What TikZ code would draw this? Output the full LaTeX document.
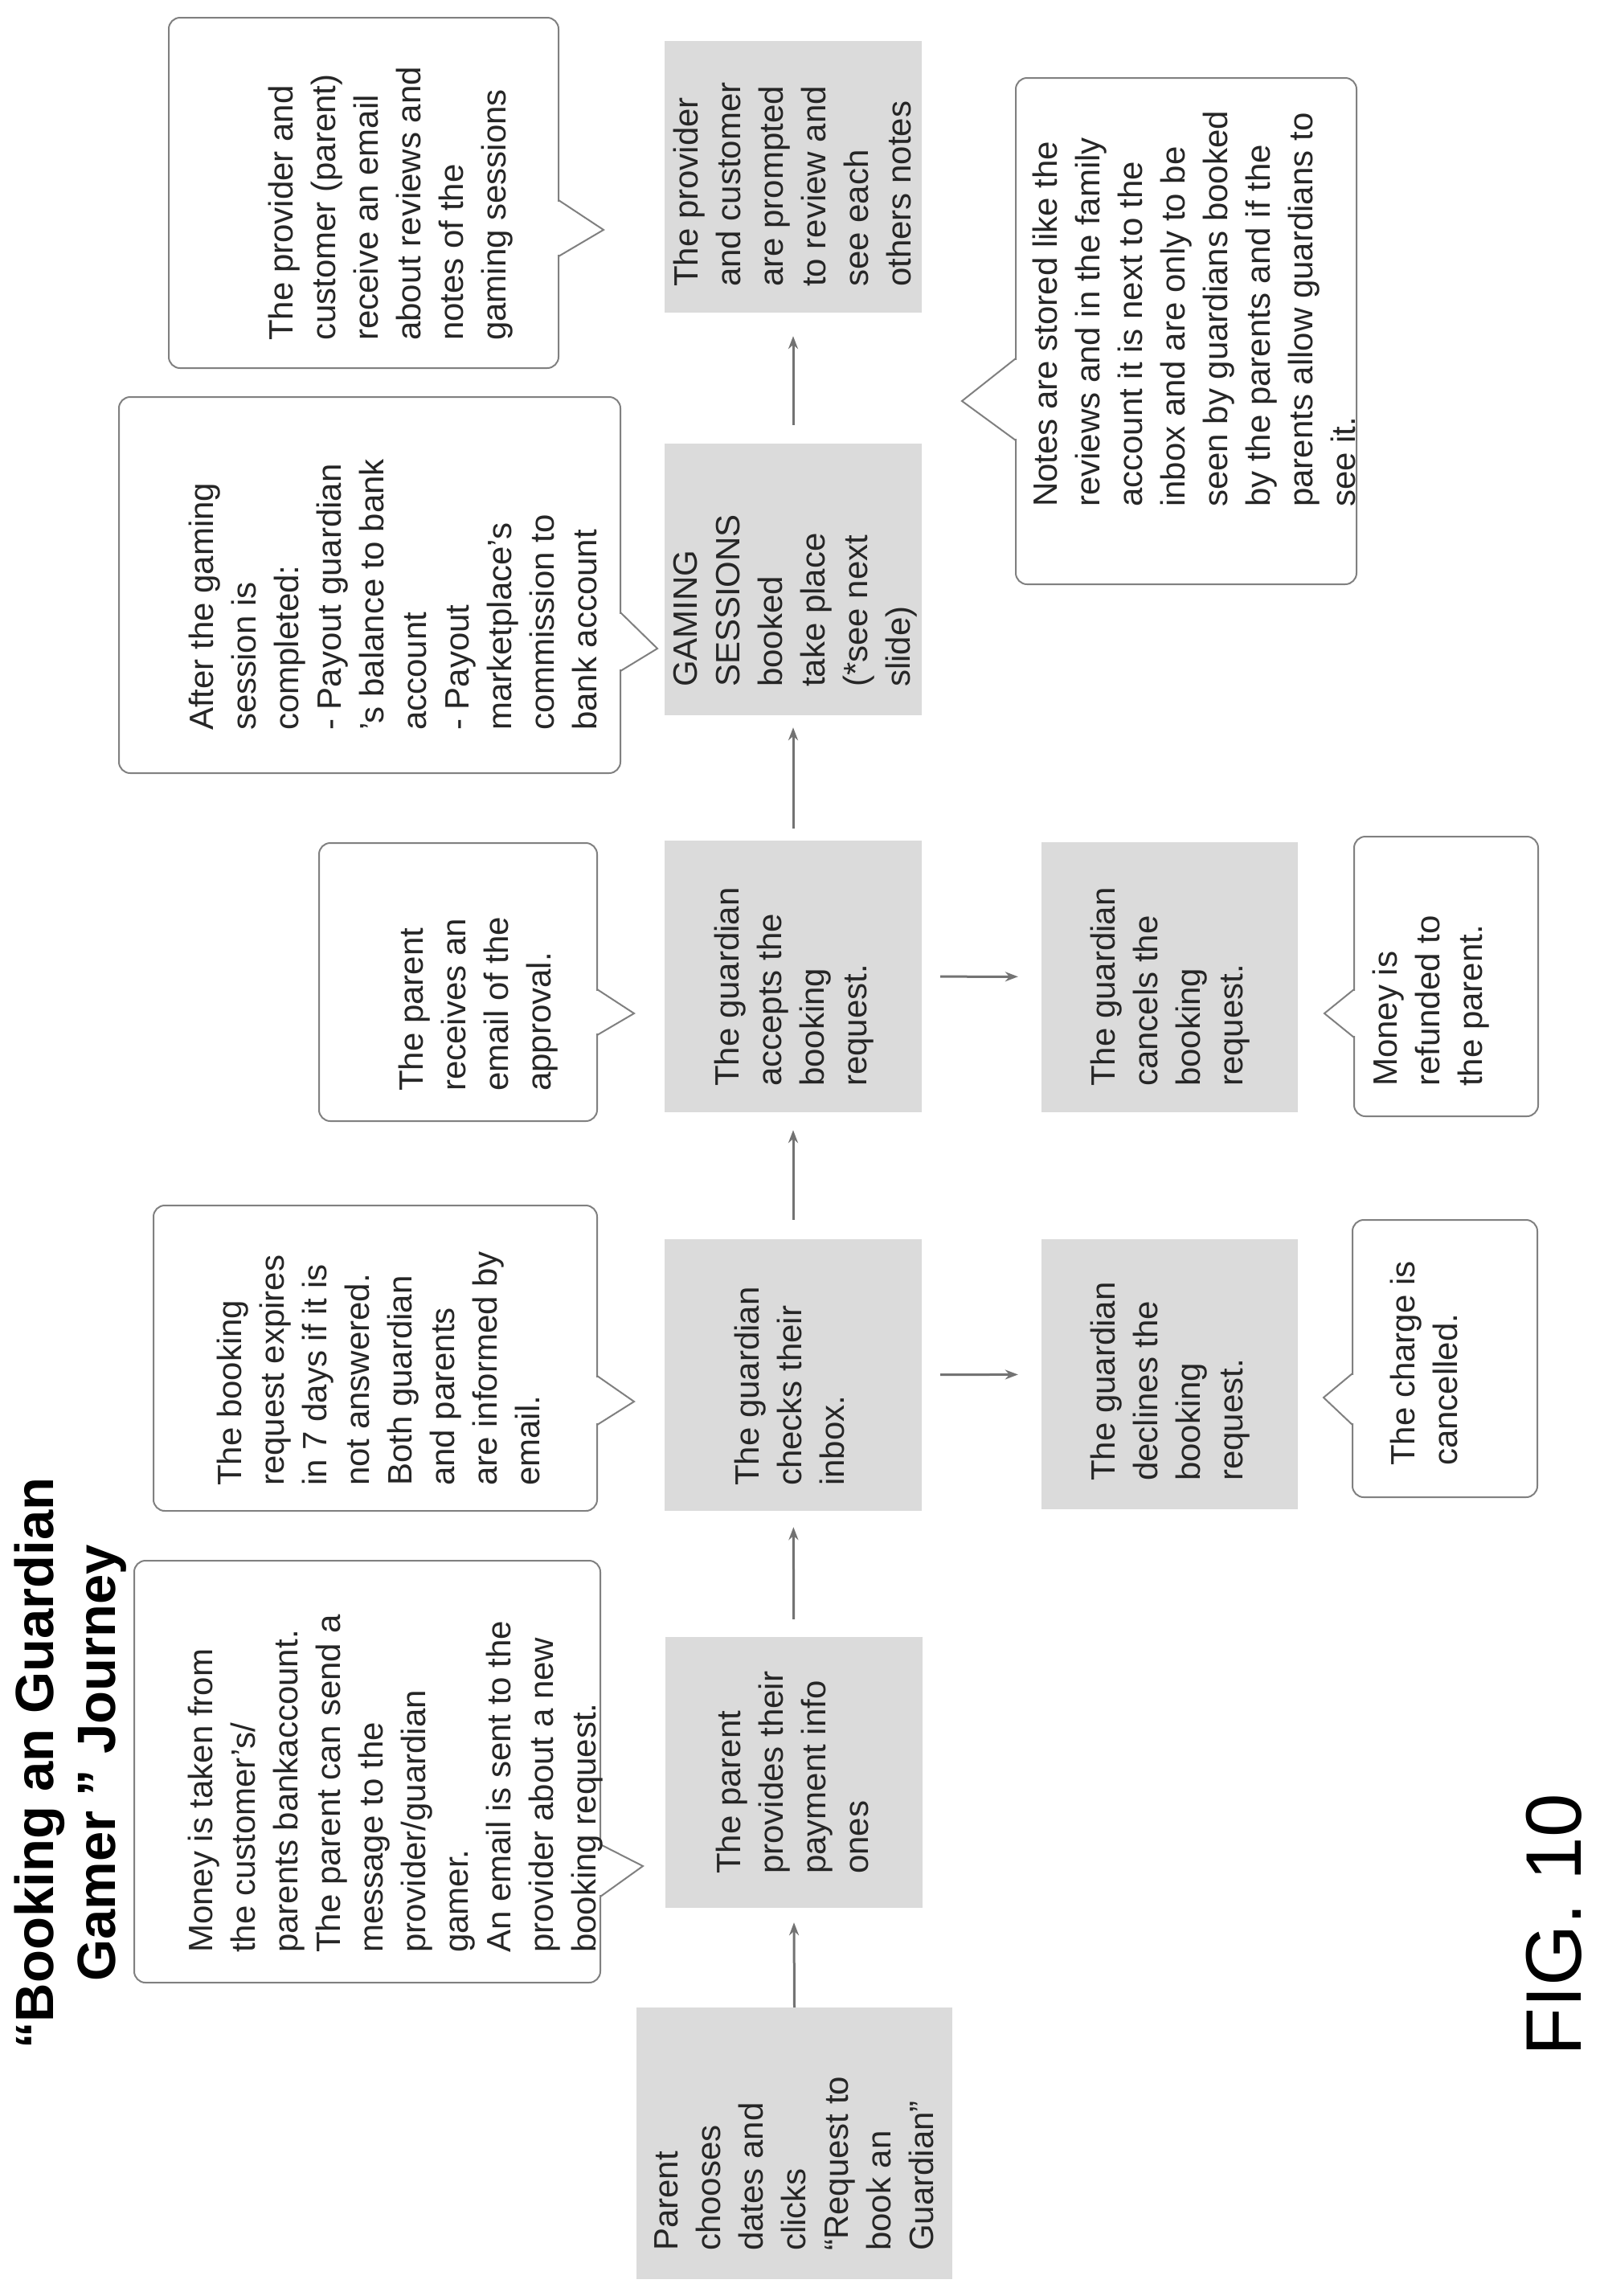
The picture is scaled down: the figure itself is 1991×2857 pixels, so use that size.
\documentclass[tikz,border=0pt]{standalone}
\usepackage{fontspec}
\setmainfont{Liberation Sans}
\usetikzlibrary{arrows.meta}
\begin{document}
\begin{tikzpicture}[x=1pt,y=-1pt,
  gbox/.style={fill=black!14,draw=none,inner sep=0pt},
  cbox/.style={draw=black!50,line width=2pt,rounded corners=14pt,fill=white,inner sep=0pt},
  ptr/.style={draw=black!50,line width=2pt,line join=miter},
  txt/.style={rotate=90,anchor=north west,align=left,inner sep=0pt,text=black!85,font=\fontsize{42}{53}\selectfont},
  arr/.style={draw=black!55,line width=3pt,-{Stealth[length=16pt,width=12pt]}}]
\useasboundingbox[fill=white] (0,0) rectangle (1991,2857);

% title and figure label
\node[rotate=90,align=center,font=\bfseries\fontsize{67}{77}\selectfont,inner sep=0pt] (title) at (88,2194) {“Booking an Guardian\\Gamer ” Journey};
\node[rotate=90,font=\fontsize{98}{110}\selectfont,inner sep=0pt] (fig) at (1934,2395) {FIG. 10};

% gray boxes
\node[gbox,minimum width=393pt,minimum height=338pt] (b1) at (988.5,2667) {};
\node[gbox,minimum width=320pt,minimum height=337pt] (b2) at (988,2205.5) {};
\node[gbox,minimum width=320pt,minimum height=338pt] (b3) at (987,1711) {};
\node[gbox,minimum width=320pt,minimum height=338pt] (b4) at (987,1215) {};
\node[gbox,minimum width=320pt,minimum height=338pt] (b5) at (987,721) {};
\node[gbox,minimum width=320pt,minimum height=338pt] (b6) at (987,220) {};
\node[gbox,minimum width=319pt,minimum height=336pt] (b7) at (1455.5,1710) {};
\node[gbox,minimum width=319pt,minimum height=336pt] (b8) at (1455.5,1215.5) {};

\node[txt] (t1) at (814,2801) {Parent\\chooses\\dates and\\clicks\\“Request to\\book an\\Guardian”};
\node[txt] (t2) at (891,2332) {The parent\\provides their\\payment info\\ones};
\node[txt] (t3) at (914,1849) {The guardian\\checks their\\inbox.};
\node[txt] (t4) at (889,1352) {The guardian\\accepts the\\booking\\request.};
\node[txt] (t5) at (838,855) {GAMING\\SESSIONS\\booked\\take place\\(*see next\\slide)};
\node[txt] (t6) at (838,357) {The provider\\and customer\\are prompted\\to review and\\see each\\others notes};
\node[txt] (t7) at (1357,1843) {The guardian\\declines the\\booking\\request.};
\node[txt] (t8) at (1357,1352) {The guardian\\cancels the\\booking\\request.};

% arrows
\draw[arr] (b1.north) -- ([yshift=-18pt]b2.south);
\draw[arr,shorten <=22pt,shorten >=20pt] (b2) -- (b3);
\draw[arr,shorten <=24pt,shorten >=22pt] (b3) -- (b4);
\draw[arr,shorten <=15pt,shorten >=15pt] (b4) -- (b5);
\draw[arr,shorten <=23pt,shorten >=29pt] (b5) -- (b6);
\draw[arr,shorten <=23pt,shorten >=29pt] (b3) -- (b7);
\draw[arr,shorten <=23pt,shorten >=29pt] (b4) -- (b8);

% callouts
\node[cbox,minimum width=580pt,minimum height=525pt] (c1) at (457,2204.5) {};
\node[cbox,minimum width=552pt,minimum height=380pt] (c2) at (467,1690) {};
\node[cbox,minimum width=346pt,minimum height=346pt] (c3) at (570,1222) {};
\node[cbox,minimum width=624pt,minimum height=468pt] (c4) at (460,728) {};
\node[cbox,minimum width=485pt,minimum height=436pt] (c5) at (452.5,240) {};
\node[cbox,minimum width=424pt,minimum height=630pt] (c6) at (1476,412) {};
\node[cbox,minimum width=230pt,minimum height=345pt] (c7) at (1798,1690.5) {};
\node[cbox,minimum width=229pt,minimum height=348pt] (c8) at (1799.5,1215) {};

% pointers (right side)
\fill[white] (744,2297) rectangle (750,2358);
\draw[ptr] (747,2295) -- (800,2322) -- (747,2360);
\fill[white] (740,1714) rectangle (746,1771);
\draw[ptr] (743,1712) -- (789,1744) -- (743,1773);
\fill[white] (740,1233) rectangle (746,1286);
\draw[ptr] (743,1231) -- (789,1261) -- (743,1288);
\fill[white] (769,764) rectangle (775,833);
\draw[ptr] (772,762) -- (818,807) -- (772,835);
\fill[white] (692,251) rectangle (698,317);
\draw[ptr] (695,249) -- (751,286) -- (695,319);
% pointers (left side)
\fill[white] (1261,448) rectangle (1267,546);
\draw[ptr] (1264,446) -- (1197,499) -- (1264,548);
\fill[white] (1680,1711) rectangle (1686,1771);
\draw[ptr] (1683,1709) -- (1647,1739) -- (1683,1773);
\fill[white] (1682,1233) rectangle (1688,1289);
\draw[ptr] (1685,1231) -- (1648,1261) -- (1685,1291);

% callout texts
\node[txt] (ct1) at (234,2430) {Money is taken from\\the customer’s/\\parents bankaccount.\\The parent can send a\\message to the\\provider/guardian\\gamer.\\An email is sent to the\\provider about a new\\booking request.};
\node[txt] (ct2) at (270,1849) {The booking\\request expires\\in 7 days if it is\\not answered.\\Both guardian\\and parents\\are informed by\\email.};
\node[txt] (ct3) at (496,1358) {The parent\\receives an\\email of the\\approval.};
\node[txt] (ct4) at (235,909) {After the gaming\\session is\\completed:\\- Payout guardian\\’s balance to bank\\account\\- Payout\\marketplace’s\\commission to\\bank account};
\node[txt] (ct5) at (334,424) {The provider and\\customer (parent)\\receive an email\\about reviews and\\notes of the\\gaming sessions};
\node[txt] (ct6) at (1285,631) {Notes are stored like the\\reviews and in the family\\account it is next to the\\inbox and are only to be\\seen by guardians booked\\by the parents and if the\\parents allow guardians to\\see it.};
\node[txt] (ct7) at (1730,1824) {The charge is\\cancelled.};
\node[txt] (ct8) at (1708,1352) {Money is\\refunded to\\the parent.};
\end{tikzpicture}
\end{document}
